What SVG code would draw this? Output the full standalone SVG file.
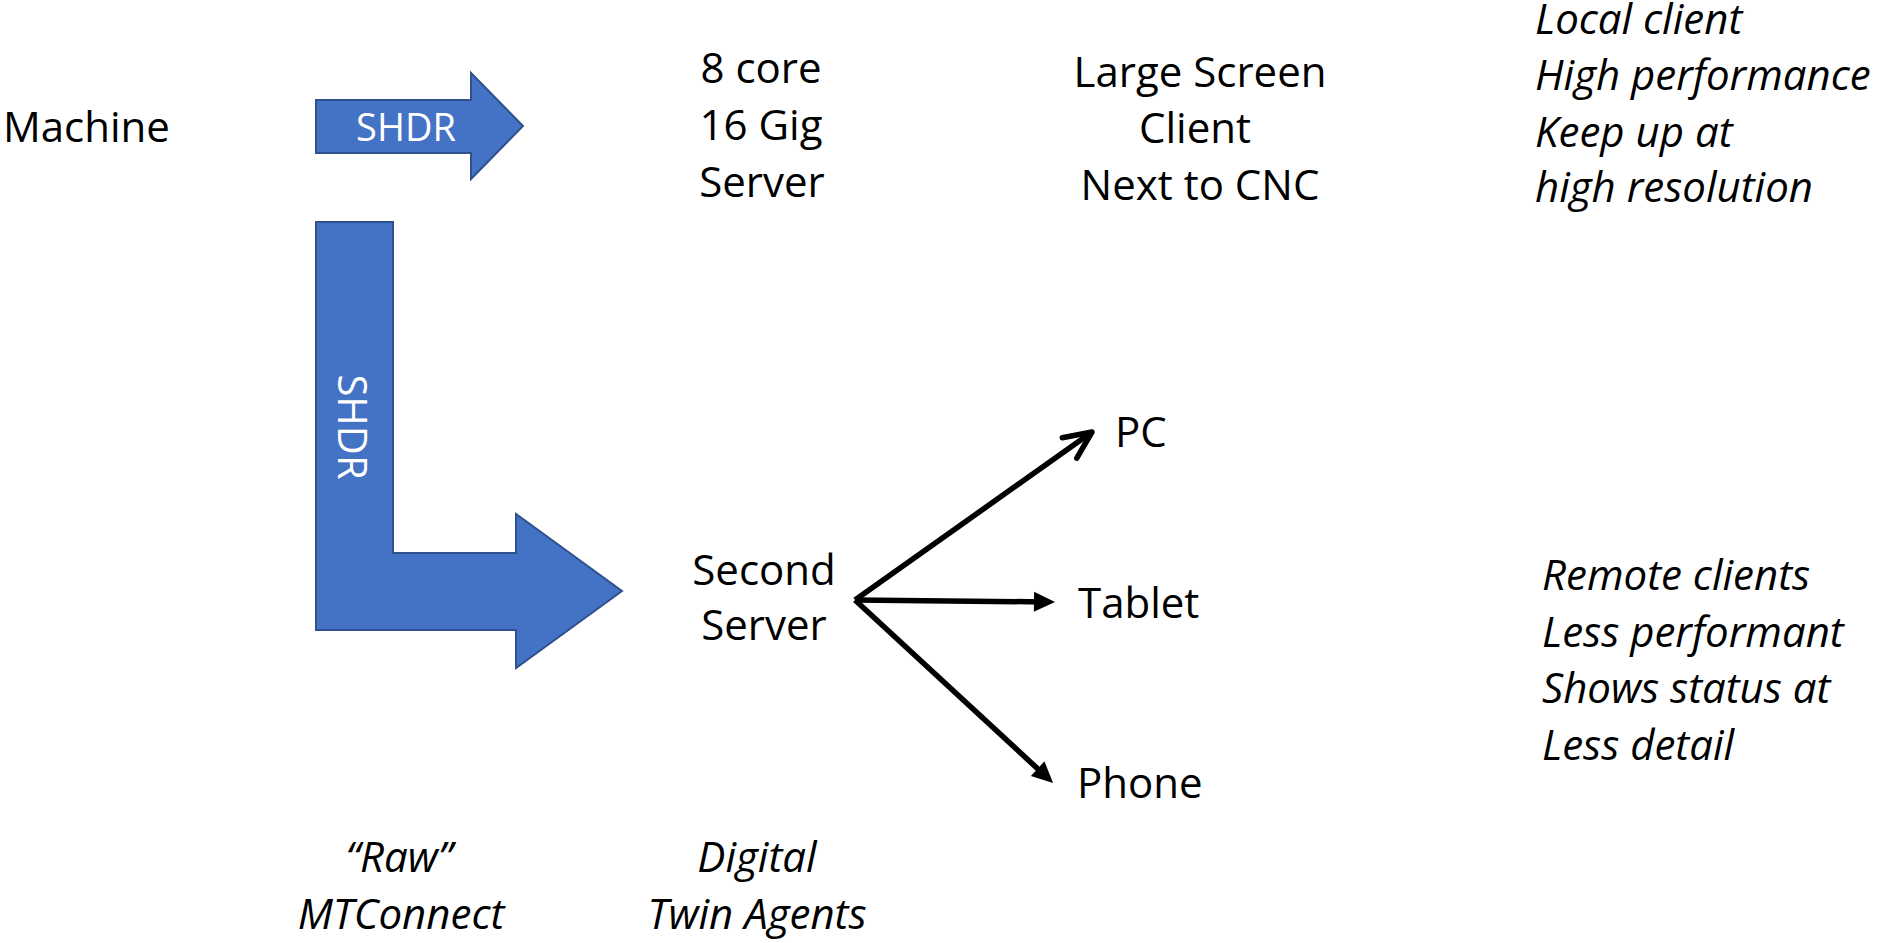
<svg xmlns="http://www.w3.org/2000/svg" width="1883" height="943" viewBox="0 0 1883 943">
<style>
.t{font-family:"Open Sans","Noto Sans",sans-serif;font-size:42px;fill:#000}
.i{font-family:"Open Sans","Noto Sans",sans-serif;font-size:42px;font-style:italic;fill:#000}
.c{text-anchor:middle}
.blk{fill:#4472C4;stroke:#2F528F;stroke-width:2;stroke-linejoin:miter}
.w{font-family:"Open Sans","Noto Sans",sans-serif;fill:#fff;text-anchor:middle}
.ln{stroke:#000;stroke-width:5.5;fill:none}
</style>
<defs>
<marker id="open" markerUnits="userSpaceOnUse" viewBox="-34 -18 40 36" markerWidth="40" markerHeight="36" refX="0" refY="0" orient="auto" overflow="visible">
<path d="M-27.5,-12.5 L0,0 L-27.5,12.5" fill="none" stroke="#000" stroke-width="5.5" stroke-linecap="round" stroke-linejoin="round"/>
</marker>
<marker id="tri" markerUnits="userSpaceOnUse" viewBox="0 0 22 22" markerWidth="22" markerHeight="22" refX="10" refY="11" orient="auto" overflow="visible">
<path d="M0,1 L21,11 L0,21 Z" fill="#000"/>
</marker>
</defs>

<g id="machine"><text class="t" x="3" y="142">Machine</text></g>

<g id="shdr-arrow-top">
<polygon class="blk" points="316,100 471,100 471,73 523,126 471,179 471,153 316,153"/>
<text class="w" x="406" y="141" font-size="38">SHDR</text>
</g>

<g id="shdr-arrow-l">
<polygon class="blk" points="316,222 393,222 393,553 516,553 516,514 622,591 516,668 516,630 316,630"/>
<text class="w" transform="translate(338,427) rotate(90)" font-size="40">SHDR</text>
</g>

<g id="server1">
<text class="t c" x="761" y="83">8 core</text>
<text class="t c" x="761" y="140">16 Gig</text>
<text class="t c" x="762" y="197">Server</text>
</g>

<g id="large-screen">
<text class="t c" x="1200" y="87">Large Screen</text>
<text class="t c" x="1195" y="143">Client</text>
<text class="t c" x="1200" y="200">Next to CNC</text>
</g>

<g id="local-note">
<text class="i" x="1535" y="34">Local client</text>
<text class="i" x="1535" y="90">High performance</text>
<text class="i" x="1535" y="147">Keep up at</text>
<text class="i" x="1535" y="202">high resolution</text>
</g>

<g id="second-server">
<text class="t c" x="764" y="585">Second</text>
<text class="t c" x="764" y="640">Server</text>
</g>

<g id="pc"><text class="t" x="1115" y="447">PC</text></g>
<g id="tablet"><text class="t" x="1078" y="618">Tablet</text></g>
<g id="phone"><text class="t" x="1077" y="798">Phone</text></g>

<g id="remote-note">
<text class="i" x="1542" y="590">Remote clients</text>
<text class="i" x="1542" y="647">Less performant</text>
<text class="i" x="1542" y="703">Shows status at</text>
<text class="i" x="1542" y="760">Less detail</text>
</g>

<g id="raw-label">
<text class="i c" x="399" y="872">“Raw”</text>
<text class="i c" x="401" y="929">MTConnect</text>
</g>

<g id="dt-label">
<text class="i c" x="757" y="872">Digital</text>
<text class="i c" x="757" y="929">Twin Agents</text>
</g>

<g id="connectors">
<line class="ln" x1="855" y1="600" x2="1092" y2="432" marker-end="url(#open)"/>
<line class="ln" x1="855" y1="600" x2="1044" y2="601.9" marker-end="url(#tri)"/>
<line class="ln" x1="855" y1="600" x2="1045" y2="775.5" marker-end="url(#tri)"/>
</g>
</svg>
